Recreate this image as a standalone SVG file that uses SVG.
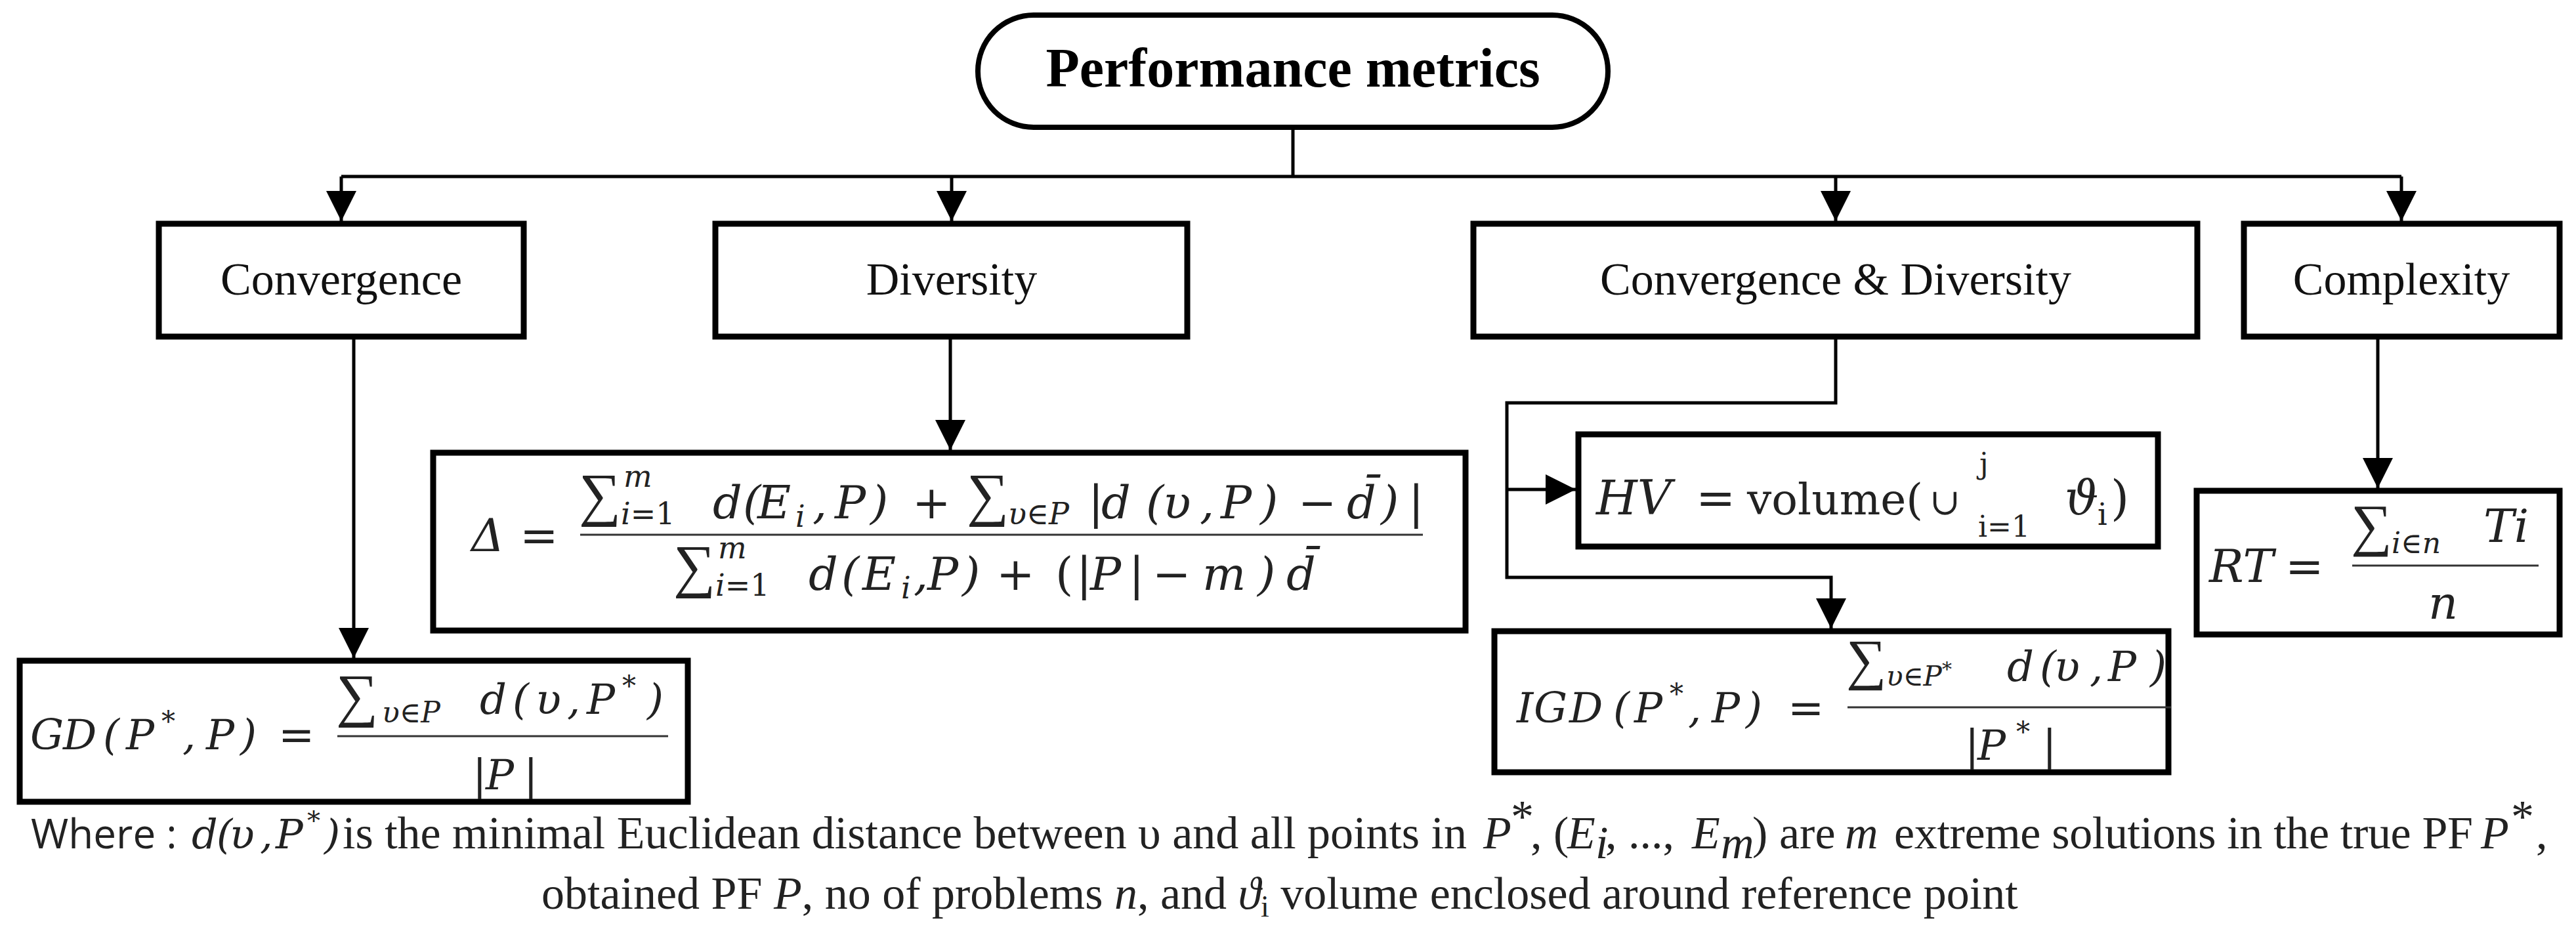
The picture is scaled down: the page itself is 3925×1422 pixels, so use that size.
<svg xmlns="http://www.w3.org/2000/svg" width="3925" height="1422" viewBox="0 0 3925 1422">
<defs>
<style>
.box{fill:#fff;stroke:#000;stroke-width:9}
.conn{fill:none;stroke:#000;stroke-width:5}
.lbl{font-family:"Liberation Serif","Times New Roman",serif;font-size:70px;fill:#111;text-anchor:middle}
.ttl{font-family:"Liberation Serif","Times New Roman",serif;font-size:84px;font-weight:bold;fill:#000;text-anchor:middle}
.m{font-family:"DejaVu Serif","Liberation Serif",serif;font-style:italic;fill:#222}
.u{font-family:"DejaVu Serif","Liberation Serif",serif;font-style:normal;fill:#222}
.sg{font-family:"Liberation Serif","DejaVu Serif",serif;font-style:normal;fill:#222}
.bar{stroke:#333;stroke-width:3}
.tx{font-family:"Liberation Serif","Times New Roman",serif;font-size:70px;fill:#222}
.ti{font-family:"Liberation Serif","Times New Roman",serif;font-style:italic;font-size:70px;fill:#222}
</style>
<marker id="ah" markerUnits="userSpaceOnUse" markerWidth="48" markerHeight="48" refX="46" refY="23" orient="auto">
<path d="M0,0 L46,23 L0,46 z" fill="#000"/>
</marker>
</defs>
<rect width="3925" height="1422" fill="#fff"/>

<g id="connectors">
<path class="conn" d="M1970,194 V269"/>
<path class="conn" d="M520,269 H3659"/>
<path class="conn" d="M520,269 V337" marker-end="url(#ah)"/>
<path class="conn" d="M1450,269 V337" marker-end="url(#ah)"/>
<path class="conn" d="M2797,269 V337" marker-end="url(#ah)"/>
<path class="conn" d="M3659,269 V337" marker-end="url(#ah)"/>
<path class="conn" d="M539,513 V1003" marker-end="url(#ah)"/>
<path class="conn" d="M1448,513 V686" marker-end="url(#ah)"/>
<path class="conn" d="M2797,513 V614 H2296 V880 H2790 V958" marker-end="url(#ah)"/>
<path class="conn" d="M2296,746 H2401" marker-end="url(#ah)"/>
<path class="conn" d="M3623,513 V744" marker-end="url(#ah)"/>
</g>

<g id="performance-metrics">
<rect x="1490" y="23" width="960" height="171" rx="85" ry="85" fill="#fff" stroke="#000" stroke-width="8"/>
<text class="ttl" x="1970" y="132">Performance metrics</text>
</g>

<g id="convergence">
<rect class="box" x="242" y="341" width="556" height="172"/>
<text class="lbl" x="520" y="449">Convergence</text>
</g>
<g id="diversity">
<rect class="box" x="1090" y="341" width="719" height="172"/>
<text class="lbl" x="1450" y="449">Diversity</text>
</g>
<g id="convergence-diversity">
<rect class="box" x="2245" y="341" width="1103" height="172"/>
<text class="lbl" x="2797" y="449">Convergence &amp; Diversity</text>
</g>
<g id="complexity">
<rect class="box" x="3419" y="341" width="481" height="172"/>
<text class="lbl" x="3659" y="449">Complexity</text>
</g>

<g id="gd">
<rect class="box" x="30" y="1007" width="1018" height="215"/>
<text class="m" font-size="64" y="1142"><tspan x="46">G</tspan><tspan x="96">D</tspan><tspan x="157">(</tspan><tspan x="192">P</tspan><tspan x="246" y="1114" font-size="42">*</tspan><tspan x="278" y="1142">,</tspan><tspan x="314">P</tspan><tspan x="366">)</tspan></text>
<text class="u" font-size="66" x="424" y="1142">=</text>
<text class="sg" font-size="90" x="512" y="1090">∑</text>
<text class="m" font-size="44" x="582" y="1101">υ∈P</text>
<text class="m" font-size="64" y="1088"><tspan x="731">d</tspan><tspan x="781">(</tspan><tspan x="816">υ</tspan><tspan x="864">,</tspan><tspan x="894">P</tspan><tspan x="948" y="1060" font-size="42">*</tspan><tspan x="986" y="1088">)</tspan></text>
<line class="bar" x1="514" y1="1122" x2="1018" y2="1122"/>
<text class="m" font-size="64" y="1203"><tspan x="720" font-style="normal">|</tspan><tspan x="740">P</tspan><tspan x="798" font-style="normal">|</tspan></text>
</g>

<g id="delta">
<rect class="box" x="660" y="690" width="1573" height="271"/>
<text class="m" font-size="70" x="718" y="840">Δ</text>
<text class="u" font-size="70" x="792" y="840">=</text>
<line class="bar" x1="884" y1="815" x2="2168" y2="815"/>
<text class="sg" font-size="90" x="882" y="784">∑</text>
<text class="m" font-size="46" x="950" y="742">m</text>
<text class="m" font-size="46" x="946" y="799">i<tspan font-style="normal">=1</tspan></text>
<text class="m" font-size="70" y="790"><tspan x="1086">d</tspan><tspan x="1132">(</tspan><tspan x="1154">E</tspan><tspan x="1212" y="803" font-size="46">i</tspan><tspan x="1238" y="790">,</tspan><tspan x="1272">P</tspan><tspan x="1326">)</tspan><tspan x="1390" font-style="normal">+</tspan></text>
<text class="sg" font-size="90" x="1473" y="784">∑</text>
<text class="m" font-size="46" x="1536" y="799">υ∈P</text>
<text class="m" font-size="70" y="790"><tspan x="1658" font-style="normal">|</tspan><tspan x="1678">d</tspan><tspan x="1746">(</tspan><tspan x="1772">υ</tspan><tspan x="1828">,</tspan><tspan x="1860">P</tspan><tspan x="1920">)</tspan><tspan x="1978" font-style="normal">−</tspan><tspan x="2052">d̄</tspan><tspan x="2104">)</tspan><tspan x="2146" font-style="normal">|</tspan></text>
<text class="sg" font-size="90" x="1026" y="893">∑</text>
<text class="m" font-size="46" x="1094" y="851">m</text>
<text class="m" font-size="46" x="1090" y="908">i<tspan font-style="normal">=1</tspan></text>
<text class="m" font-size="70" y="899"><tspan x="1232">d</tspan><tspan x="1282">(</tspan><tspan x="1314">E</tspan><tspan x="1373" y="912" font-size="46">i</tspan><tspan x="1392" y="899">,</tspan><tspan x="1413">P</tspan><tspan x="1466">)</tspan><tspan x="1518" font-style="normal">+</tspan><tspan x="1608" font-style="normal">(</tspan><tspan x="1640" font-style="normal">|</tspan><tspan x="1661">P</tspan><tspan x="1720" font-style="normal">|</tspan><tspan x="1756" font-style="normal">−</tspan><tspan x="1832">m</tspan><tspan x="1916">)</tspan><tspan x="1960">d̄</tspan></text>
</g>

<g id="hv">
<rect class="box" x="2405" y="662" width="883" height="171"/>
<text class="m" font-size="72" x="2432" y="784">HV</text>
<text class="u" font-size="72" x="2584" y="784">=</text>
<text class="u" font-size="66" x="2662" y="784">volume(</text>
<text class="u" font-size="56" x="2940" y="784">∪</text>
<text class="u" font-size="44" x="3016" y="722">j</text>
<text class="u" font-size="44" x="3014" y="818">i=1</text>
<text class="m" font-size="72" x="3146" y="784">ϑ</text>
<text class="u" font-size="46" x="3196" y="800">i</text>
<text class="u" font-size="72" x="3216" y="784">)</text>
</g>

<g id="igd">
<rect class="box" x="2277" y="962" width="1027" height="215"/>
<text class="m" font-size="64" y="1101"><tspan x="2311">I</tspan><tspan x="2337">G</tspan><tspan x="2391">D</tspan><tspan x="2458">(</tspan><tspan x="2490">P</tspan><tspan x="2544" y="1072" font-size="42">*</tspan><tspan x="2572" y="1101">,</tspan><tspan x="2608">P</tspan><tspan x="2660">)</tspan></text>
<text class="u" font-size="66" x="2724" y="1101">=</text>
<text class="sg" font-size="86" x="2813" y="1034">∑</text>
<text class="m" font-size="42" x="2874" y="1045">υ∈P<tspan dy="-15" font-size="30">*</tspan></text>
<text class="m" font-size="64" y="1038"><tspan x="3058">d</tspan><tspan x="3108">(</tspan><tspan x="3130">υ</tspan><tspan x="3184">,</tspan><tspan x="3212">P</tspan><tspan x="3276">)</tspan></text>
<line class="bar" x1="2815" y1="1078" x2="3308" y2="1078"/>
<text class="m" font-size="64" y="1158"><tspan x="2994" font-style="normal">|</tspan><tspan x="3013">P</tspan><tspan x="3072" y="1130" font-size="42">*</tspan><tspan x="3112" y="1158" font-style="normal">|</tspan></text>
</g>

<g id="rt">
<rect class="box" x="3347" y="748" width="553" height="219"/>
<text class="m" font-size="70" x="3366" y="887">RT</text>
<text class="u" font-size="70" x="3482" y="887">=</text>
<text class="sg" font-size="88" x="3582" y="830">∑</text>
<text class="m" font-size="44" x="3644" y="843">i∈n</text>
<text class="m" font-size="70" x="3784" y="826">Ti</text>
<line class="bar" x1="3584" y1="862" x2="3868" y2="862"/>
<text class="m" font-size="70" x="3700" y="943">n</text>
</g>

<g id="note">
<text font-family="'Open Sans','Liberation Sans',sans-serif" font-size="62" fill="#222" x="47" y="1293">Where :</text>
<text class="m" font-size="62" y="1293"><tspan x="292">d</tspan><tspan x="330">(</tspan><tspan x="350">υ</tspan><tspan x="396">,</tspan><tspan x="420">P</tspan><tspan x="468" y="1264" font-size="40">*</tspan><tspan x="494" y="1293">)</tspan></text>
<text class="tx" x="522" y="1293" textLength="1713" lengthAdjust="spacing">is the minimal Euclidean distance between υ and all points in</text>
<text class="ti" x="2260" y="1293">P</text>
<text class="tx" x="2302" y="1268" font-size="46">*</text>
<text class="tx" x="2332" y="1293">, (</text>
<text class="ti" x="2388" y="1293">E</text>
<text class="ti" x="2431" y="1308" font-size="46">i</text>
<text class="tx" x="2446" y="1293">, ..., </text>
<text class="ti" x="2578" y="1293">E</text>
<text class="ti" x="2622" y="1308" font-size="46">m</text>
<text class="tx" x="2670" y="1293">)</text>
<text class="tx" x="2711" y="1293">are</text>
<text class="ti" x="2811" y="1293">m</text>
<text class="tx" x="2886" y="1293" textLength="882" lengthAdjust="spacing">extreme solutions in the true PF</text>
<text class="ti" x="3780" y="1293">P</text>
<text class="tx" x="3826" y="1268" font-size="46">*</text>
<text class="tx" x="3864" y="1293">,</text>
<text class="tx" x="825" y="1385">obtained PF <tspan class="ti">P</tspan>, no of problems <tspan class="ti">n</tspan>, and <tspan font-style="italic">ϑ</tspan><tspan font-size="46" dy="12">i</tspan><tspan dy="-12"> volume enclosed around reference point</tspan></text>
</g>
</svg>
